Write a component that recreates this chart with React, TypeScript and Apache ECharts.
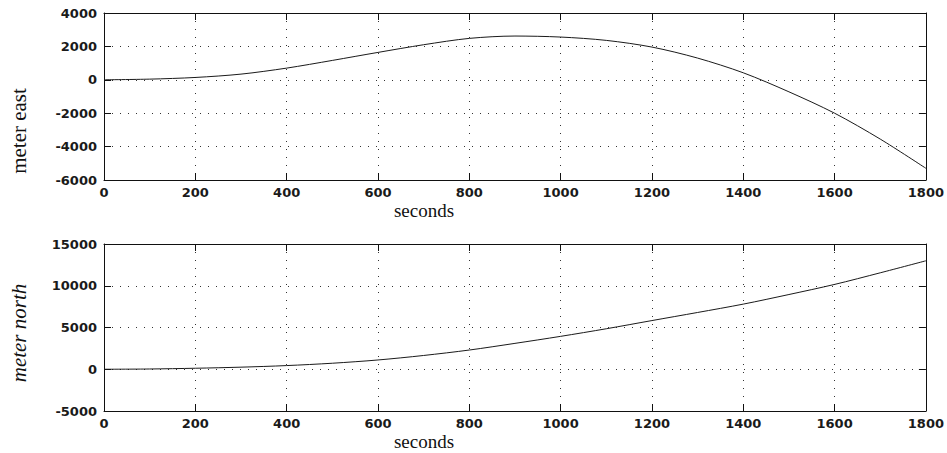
import React, { useEffect, useRef } from "react";
import * as echarts from "echarts";

const seconds = [0, 100, 200, 300, 400, 500, 600, 700, 800, 900, 1000, 1100, 1200, 1300, 1400, 1500, 1600, 1700, 1800];
const meterEast = [0, 40, 140, 340, 700, 1160, 1640, 2100, 2480, 2620, 2560, 2360, 1960, 1300, 420, -720, -2000, -3550, -5300];
const meterNorth = [0, 30, 120, 250, 440, 720, 1110, 1650, 2300, 3100, 3940, 4850, 5830, 6800, 7800, 8950, 10160, 11550, 12990];

const xTicks = { min: 0, max: 1800, interval: 200 };
const eastTicks = { min: -6000, max: 4000, interval: 2000 };
const northTicks = { min: -5000, max: 15000, interval: 5000 };

const labelFont = {
  fontFamily: "DejaVu Sans",
  fontSize: 13,
  fontWeight: "bold" as const,
  color: "#1a1a1a",
};

export default function App() {
  const ref = useRef<HTMLDivElement>(null);
  useEffect(() => {
    if (!ref.current) return;
    const chart = echarts.init(ref.current, null, { renderer: "svg" });
    const grids = [
      { left: 104, top: 13, width: 822, height: 167 },
      { left: 104, top: 244, width: 822, height: 167 },
    ];
    const axisLine = { show: true, onZero: false, lineStyle: { color: "#111", width: 1 } };
    const tick = { show: true, inside: true, length: 7, lineStyle: { color: "#111", width: 1 } };
    const split = { show: true, lineStyle: { color: "#333", width: 1, type: [1, 7] as any } };
    const fmt = (v: number) => String(v);
    const mkX = (gi: number) => [
      {
        type: "value", gridIndex: gi, ...xTicks, position: "bottom",
        axisLine, axisTick: tick, splitLine: split,
        axisLabel: { ...labelFont, margin: 6, formatter: fmt },
      },
      {
        type: "value", gridIndex: gi, ...xTicks, position: "top",
        axisLine, axisTick: tick, splitLine: { show: false },
        axisLabel: { show: false },
      },
    ];
    const mkY = (gi: number, t: any) => [
      {
        type: "value", gridIndex: gi, ...t, position: "left",
        axisLine, axisTick: tick, splitLine: split,
        axisLabel: { ...labelFont, margin: 7, formatter: fmt },
      },
      {
        type: "value", gridIndex: gi, ...t, position: "right",
        axisLine, axisTick: tick, splitLine: { show: false },
        axisLabel: { show: false },
      },
    ];
    const lineStyle = { color: "#1a1a1a", width: 1 };
    chart.setOption({
      animation: false,
      backgroundColor: "#ffffff",
      grid: grids,
      xAxis: [...mkX(0), ...mkX(1)],
      yAxis: [...mkY(0, eastTicks), ...mkY(1, northTicks)],
      series: [
        {
          type: "line", xAxisIndex: 0, yAxisIndex: 0, showSymbol: false, smooth: 0.3,
          data: seconds.map((s, i) => [s, meterEast[i]]), lineStyle,
        },
        {
          type: "line", xAxisIndex: 2, yAxisIndex: 2, showSymbol: false, smooth: 0.3,
          data: seconds.map((s, i) => [s, meterNorth[i]]), lineStyle,
        },
      ],
      graphic: [
        {
          type: "text", x: 424, y: 210,
          style: { text: "seconds", font: "19px 'Liberation Serif'", fill: "#111", textAlign: "center", textVerticalAlign: "middle" },
        },
        {
          type: "text", x: 424, y: 441,
          style: { text: "seconds", font: "19px 'Liberation Serif'", fill: "#111", textAlign: "center", textVerticalAlign: "middle" },
        },
        {
          type: "text", x: 19, y: 131, rotation: Math.PI / 2,
          style: { text: "meter east", font: "21px 'Liberation Serif'", fill: "#111", textAlign: "center", textVerticalAlign: "middle" },
        },
        {
          type: "text", x: 19, y: 333, rotation: Math.PI / 2,
          style: { text: "meter north", font: "italic 21px 'Liberation Serif'", fill: "#111", textAlign: "center", textVerticalAlign: "middle" },
        },
      ],
    });
    return () => chart.dispose();
  }, []);
  return (
    <div
      ref={ref}
      style={{ position: "fixed", left: 0, top: 0, width: 947, height: 453, background: "#fff" }}
    />
  );
}
